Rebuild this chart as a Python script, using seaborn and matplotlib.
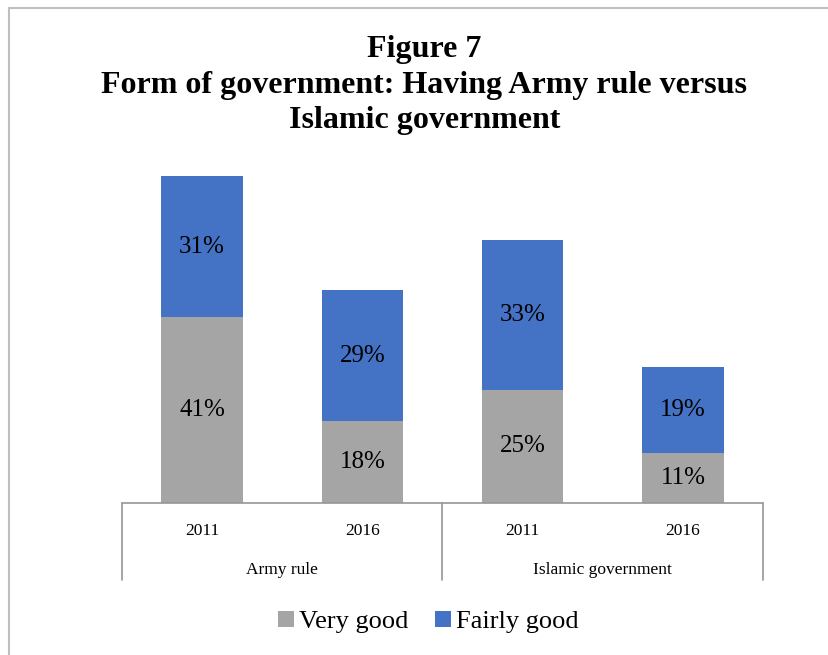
import matplotlib
matplotlib.use("Agg")
import matplotlib.pyplot as plt
from matplotlib.patches import Patch
from matplotlib.lines import Line2D
import matplotlib.transforms as mtransforms
import pandas as pd
import seaborn as sns

# Survey shares (%) by form of government and year
groups = ["Army rule", "Islamic government"]
years = ["2011", "2016", "2011", "2016"]
very_good = [41, 18, 25, 11]
fairly_good = [31, 29, 33, 19]

GRAY = "#A5A5A5"
BLUE = "#4472C4"

sns.set_theme(style="white")
plt.rcParams["font.family"] = ["Liberation Serif", "DejaVu Serif"]
plt.rcParams["text.color"] = "black"

keys = [f"{g}|{y}" for g, y in zip([groups[0]] * 2 + [groups[1]] * 2, years)]
df = pd.DataFrame({
    "key": keys,
    "very_good": very_good,
    "fairly_good": fairly_good,
})
df["total"] = df["very_good"] + df["fairly_good"]

W, H = 829, 655
fig = plt.figure(figsize=(W / 100, H / 100), dpi=100)

# plot area in pixel terms
x0, x1 = 122, 763
y_base, y_top = 503, 140
ax = fig.add_axes([x0 / W, (H - y_base) / H, (x1 - x0) / W, (y_base - y_top) / H])

sns.barplot(data=df, x="key", y="total", order=keys, color=BLUE, saturation=1,
            width=0.51, ax=ax, linewidth=0, errorbar=None)
sns.barplot(data=df, x="key", y="very_good", order=keys, color=GRAY, saturation=1,
            width=0.51, ax=ax, linewidth=0, errorbar=None)

ax.set_ylim(0, 80)
ax.set_xlim(-0.5, len(keys) - 0.5)
ax.set_xlabel("")
ax.set_ylabel("")
ax.set_xticks([])
ax.set_yticks([])
for s in ax.spines.values():
    s.set_visible(False)

# segment value labels
for i, (vg, fg) in enumerate(zip(very_good, fairly_good)):
    ax.text(i, vg / 2, f"{vg}%", ha="center", va="center", fontsize=18, color="black")
    ax.text(i, vg + fg / 2, f"{fg}%", ha="center", va="center", fontsize=18, color="black")

# two-level category axis
trans = mtransforms.blended_transform_factory(ax.transData, ax.transAxes)
ah = (y_base - y_top)
def ypix(p):
    # axes fraction for a pixel row below the baseline
    return -(p - y_base) / ah

axis_col = "#969696"
ax.add_line(Line2D([-0.5, 3.5], [0, 0], transform=trans, color=axis_col, lw=1.2, clip_on=False))
for xv in [-0.5, 1.5, 3.5]:
    ax.add_line(Line2D([xv, xv], [0, ypix(580)], transform=trans, color=axis_col,
                       lw=1.2, clip_on=False))
for i, y in enumerate(years):
    ax.text(i, ypix(531), y, transform=trans, ha="center", va="center", fontsize=12.5,
            color="black")
for j, g in enumerate(groups):
    ax.text(2 * j + 0.5, ypix(570), g, transform=trans, ha="center", va="center",
            fontsize=12.5, color="black")

# title
fig.text(0.512, 1 - 85 / H,
         "Figure 7\nForm of government: Having Army rule versus\nIslamic government",
         ha="center", va="center", fontsize=23, fontweight="bold", linespacing=1.3,
         color="black")

# legend
handles = [Patch(facecolor=GRAY, edgecolor="none", label="Very good"),
           Patch(facecolor=BLUE, edgecolor="none", label="Fairly good")]
leg = fig.legend(handles=handles, loc="center", bbox_to_anchor=(0.517, 1 - 622 / H), ncol=2,
                 frameon=False, fontsize=19, handlelength=0.6, handleheight=0.6,
                 handletextpad=0.2, columnspacing=1.0)
for t in leg.get_texts():
    t.set_color("black")

# chart-area border (left and top edges)
border = "#BFBFBF"
fig.add_artist(Line2D([9.5 / W, 9.5 / W], [0, 1 - 7.5 / H], transform=fig.transFigure,
                      color=border, lw=1.5))
fig.add_artist(Line2D([9.5 / W, 1], [1 - 7.5 / H, 1 - 7.5 / H], transform=fig.transFigure,
                      color=border, lw=1.5))

fig.savefig("out.png", dpi=100)
